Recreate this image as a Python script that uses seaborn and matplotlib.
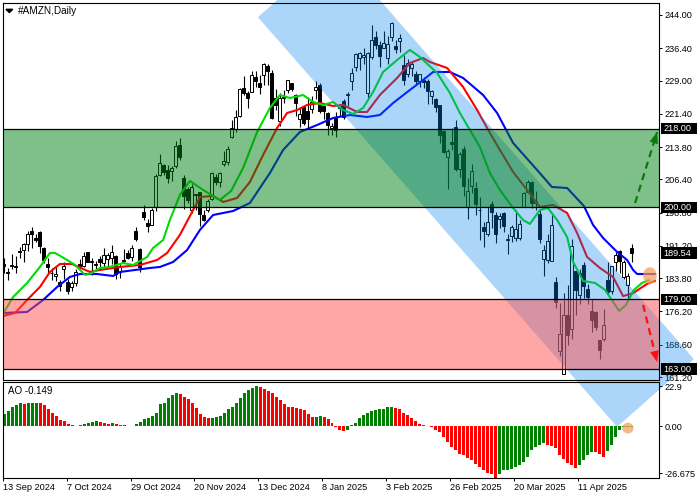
import numpy as np
import pandas as pd
import matplotlib
matplotlib.use("Agg")
import matplotlib.pyplot as plt
import matplotlib.transforms as mtransforms
from matplotlib.patches import Rectangle, Ellipse, Polygon
import seaborn as sns

# ---------------- data ----------------
date_bars = [0, 16, 32, 48, 64, 80, 96, 112, 128, 144]
date_labels = ["13 Sep 2024", "7 Oct 2024", "29 Oct 2024", "20 Nov 2024", "13 Dec 2024",
               "8 Jan 2025", "3 Feb 2025", "26 Feb 2025", "20 Mar 2025", "11 Apr 2025"]

open_ = [187.0, 185.3, 186.6, 186.7, 190.0, 190.2, 191.6, 194.6, 192.9, 194.3,
         190.7, 187.1, 184.9, 184.4, 183.0, 185.8, 183.0, 181.9, 182.8, 187.1,
         186.6, 189.8, 187.6, 187.1, 188.2, 187.2, 188.1, 188.4, 188.9, 185.3,
         187.9, 189.6, 188.6, 194.7, 190.5, 199.0, 196.5, 196.0, 200.0, 207.4,
         209.7, 208.5, 208.4, 209.4, 214.2, 206.8, 204.2, 199.3, 203.0, 203.5,
         198.3, 199.3, 201.9, 207.0, 205.8, 210.0, 210.3, 216.0, 218.0, 220.8,
         227.2, 226.1, 226.4, 229.8, 228.4, 230.2, 232.4, 230.8, 224.9, 219.8,
         225.0, 226.9, 228.5, 225.6, 220.1, 223.0, 222.0, 222.5, 226.8, 227.9,
         223.2, 221.5, 218.1, 220.4, 222.8, 224.4, 225.8, 228.9, 232.0, 234.1,
         234.5, 226.2, 234.3, 239.0, 237.1, 236.5, 234.1, 239.0, 237.0, 238.0,
         232.5, 230.6, 231.9, 230.5, 228.9, 229.2, 228.8, 225.5, 224.8, 223.3,
         217.5, 211.6, 214.9, 218.4, 208.7, 213.4, 200.1, 204.8, 204.4, 199.5,
         195.6, 193.9, 200.7, 198.2, 197.4, 198.8, 192.5, 193.4, 193.1, 192.9,
         200.0, 203.6, 205.8, 200.9, 198.4, 188.2, 187.9, 187.7, 183.0, 167.1,
         162.0, 175.3, 172.1, 185.4, 179.9, 186.8, 181.4, 176.3, 176.0, 169.6,
         169.9, 183.5, 180.9, 187.6, 190.1, 184.0, 182.2, 190.6]
high = [188.5, 186.1, 189.4, 188.8, 191.0, 191.8, 194.5, 195.4, 194.0, 194.5,
        190.9, 188.5, 186.2, 186.6, 183.4, 187.6, 183.6, 183.1, 185.8, 188.1,
        189.9, 189.8, 188.4, 187.8, 188.9, 190.7, 189.5, 191.5, 189.2, 187.1,
        190.5, 190.2, 191.5, 195.6, 190.6, 200.5, 197.3, 199.8, 207.6, 212.3,
        210.0, 209.7, 209.5, 215.1, 215.9, 207.3, 204.7, 205.3, 203.1, 203.5,
        199.3, 202.0, 208.0, 207.6, 208.2, 213.0, 214.0, 220.0, 222.2, 227.2,
        230.1, 226.7, 231.2, 231.1, 230.2, 233.0, 232.7, 231.4, 227.0, 226.2,
        226.9, 229.1, 228.5, 226.0, 223.0, 223.2, 225.2, 225.4, 228.8, 228.4,
        223.5, 221.7, 219.4, 221.8, 223.6, 224.7, 226.5, 231.8, 235.4, 235.5,
        236.4, 235.6, 241.8, 240.4, 238.0, 240.3, 239.3, 242.5, 238.3, 239.7,
        234.8, 233.9, 233.4, 231.2, 230.4, 229.9, 229.3, 226.8, 225.1, 223.3,
        217.7, 213.3, 218.2, 220.0, 212.6, 214.0, 206.8, 210.0, 205.8, 202.3,
        196.7, 200.2, 201.5, 198.9, 198.7, 199.0, 194.0, 196.0, 199.3, 197.0,
        203.6, 206.2, 206.0, 203.8, 199.3, 191.3, 193.9, 198.3, 184.1, 178.1,
        180.5, 182.3, 192.7, 185.4, 185.9, 187.4, 182.4, 179.1, 176.2, 169.6,
        176.8, 187.4, 186.7, 189.9, 190.2, 188.0, 185.1, 191.6]
low = [185.1, 183.4, 186.0, 185.1, 188.4, 187.4, 190.1, 190.8, 192.0, 189.5,
       187.3, 184.7, 183.5, 183.1, 180.9, 183.6, 180.3, 180.9, 182.1, 185.8,
       186.3, 187.4, 184.6, 185.6, 186.0, 186.3, 186.4, 187.0, 183.7, 183.9,
       187.5, 188.2, 187.8, 192.4, 185.2, 197.0, 194.3, 196.0, 199.1, 207.2,
       207.4, 205.6, 206.0, 209.1, 210.9, 199.6, 201.0, 198.8, 199.5, 195.8,
       196.8, 199.0, 201.8, 205.1, 204.6, 209.5, 209.7, 215.8, 217.3, 220.6,
       225.7, 222.8, 226.3, 227.6, 225.9, 228.0, 227.9, 220.1, 222.3, 218.7,
       223.9, 226.1, 226.7, 220.9, 218.4, 218.9, 218.2, 221.6, 224.8, 221.5,
       220.2, 216.5, 216.5, 216.2, 220.8, 220.3, 223.1, 226.9, 231.2, 231.5,
       232.9, 225.0, 234.0, 236.2, 232.2, 236.4, 232.9, 238.0, 235.2, 235.6,
       228.1, 229.8, 230.1, 228.2, 227.5, 227.2, 223.7, 223.7, 221.8, 214.7,
       212.4, 204.2, 213.1, 208.4, 207.0, 202.6, 197.4, 203.3, 198.3, 192.5,
       190.9, 193.4, 195.3, 191.8, 195.3, 194.3, 189.4, 192.0, 192.3, 192.5,
       200.0, 203.2, 199.9, 199.3, 191.9, 184.4, 187.2, 187.7, 176.9, 166.0,
       162.2, 168.6, 169.9, 175.4, 178.0, 179.2, 177.9, 171.4, 172.0, 165.3,
       169.4, 180.2, 180.2, 185.5, 184.9, 183.7, 178.9, 187.4]
close = [186.5, 184.9, 186.9, 186.4, 189.9, 191.6, 193.9, 194.0, 192.5, 191.2,
         188.0, 186.3, 185.1, 184.8, 182.0, 186.5, 180.8, 182.7, 185.2, 186.7,
         188.8, 187.5, 187.7, 186.9, 187.5, 189.0, 189.1, 189.7, 184.7, 186.4,
         187.8, 188.4, 190.8, 192.7, 186.4, 197.9, 195.8, 199.5, 207.1, 210.1,
         208.2, 206.8, 208.9, 214.1, 211.5, 202.6, 201.7, 204.6, 202.9, 198.4,
         197.1, 201.5, 207.9, 205.7, 207.9, 210.7, 213.4, 218.2, 220.6, 227.0,
         226.1, 225.0, 230.3, 229.0, 227.5, 232.9, 231.2, 220.5, 223.3, 224.9,
         225.1, 229.1, 227.1, 223.8, 221.3, 219.4, 220.2, 224.2, 227.6, 222.1,
         222.1, 218.9, 218.5, 217.8, 223.4, 220.7, 225.9, 230.7, 235.0, 235.4,
         234.9, 235.4, 238.2, 237.1, 234.6, 237.7, 237.4, 242.1, 236.2, 238.8,
         229.2, 233.1, 232.8, 228.9, 230.4, 228.7, 226.7, 226.6, 222.9, 216.6,
         212.7, 212.8, 214.4, 208.7, 212.3, 205.0, 203.8, 208.4, 200.7, 199.3,
         194.5, 196.6, 198.9, 193.9, 198.0, 195.7, 192.8, 195.5, 195.0, 196.2,
         203.3, 205.7, 201.1, 201.4, 192.7, 190.3, 192.2, 196.0, 178.4, 171.0,
         175.3, 170.7, 191.1, 181.2, 184.9, 182.1, 179.6, 174.3, 172.6, 167.3,
         173.2, 180.6, 186.5, 189.0, 187.7, 187.4, 184.4, 189.54]

# Alligator lines (bar number, price)
jaw_bar = [0, 5.9, 9.9, 13.4, 16.6, 19.1, 23.4, 27.4, 29.1, 36.6, 39.1, 42.4, 45.9, 49.1,
           52.4, 57.4, 61.6, 66.6, 69.9, 74.1, 78.4, 82.4, 86.6, 90.9, 94.1, 97.4, 101.6,
           104.9, 107.4, 111.6, 114.9, 119.9, 123.4, 127.4, 133.4, 137.1, 140.9, 145.1,
           147.4, 149.9, 153.4, 155.9, 157.4, 158.4, 162.9]
jaw_val = [175.85, 176.08, 178.82, 181.79, 184.08, 184.76, 184.76, 184.31, 185.22, 186.14,
           186.37, 187.51, 190.25, 194.83, 198.26, 199.17, 201.0, 207.86, 213.13, 217.24,
           218.84, 220.44, 221.13, 220.67, 221.13, 223.87, 226.85, 229.13, 230.96, 230.96,
           229.59, 225.70, 221.59, 214.73, 208.55, 204.66, 204.43, 200.32, 195.97, 193.0,
           189.8, 187.97, 185.68, 184.76, 184.76]
teeth_bar = [0, 2.9, 5.9, 9.1, 11.6, 14.1, 17.1, 21.6, 24.1, 29.1, 34.1, 38.4, 40.9, 44.1,
             47.4, 49.1, 52.4, 54.9, 58.4, 61.6, 64.9, 68.4, 70.9, 73.4, 75.9, 79.1, 82.4,
             84.9, 88.4, 90.9, 94.1, 98.4, 101.6, 104.9, 106.6, 110.9, 114.9, 118.4, 121.6,
             124.1, 127.4, 130.9, 134.1, 137.4, 140.9, 143.4, 145.9, 149.1, 152.4, 154.9,
             157.4, 160.9, 162.9]
teeth_val = [175.16, 175.85, 178.82, 181.79, 185.22, 187.05, 187.05, 185.22, 185.68, 186.37,
             186.82, 187.97, 189.57, 193.69, 199.40, 202.38, 202.60, 201.23, 202.15, 205.81,
             211.98, 218.16, 221.59, 222.27, 223.42, 223.87, 223.19, 223.42, 221.82, 221.82,
             225.70, 229.59, 233.02, 234.17, 233.25, 231.88, 227.53, 222.27, 217.01, 213.13,
             208.09, 203.98, 200.09, 200.55, 198.72, 194.14, 188.65, 186.14, 184.08, 179.7,
             180.4, 182.5, 183.2]
lips_bar = [0, 2.4, 5.9, 9.1, 11.6, 12.9, 15.9, 17.9, 20.4, 22.1, 24.1, 26.6, 29.9, 32.4,
            35.9, 37.4, 39.9, 41.6, 44.1, 46.6, 49.9, 54.1, 56.9, 59.9, 63.4, 66.6, 69.1,
            71.6, 74.9, 77.4, 79.9, 82.4, 84.9, 87.4, 89.9, 92.4, 94.9, 98.4, 101.6, 104.1,
            108.4, 111.6, 114.1, 116.6, 119.1, 121.6, 124.1, 127.4, 129.9, 131.6, 134.1,
            136.1, 138.4, 140.9, 142.4, 144.9, 147.9, 150.4, 153.9, 155.6, 157.6, 159.6, 161.4]
lips_val = [175.85, 179.51, 182.71, 186.37, 189.57, 189.57, 187.97, 186.82, 184.54, 185.0,
            186.14, 186.37, 187.28, 186.82, 188.65, 190.71, 192.54, 197.12, 202.83, 206.04,
            203.98, 201.69, 203.75, 209.01, 217.24, 222.73, 225.70, 225.02, 225.70, 224.10,
            223.42, 224.10, 222.27, 221.36, 222.73, 226.39, 230.96, 233.71, 236.0, 234.39,
            230.74, 226.16, 221.59, 217.70, 213.81, 207.86, 203.98, 199.86, 197.12, 196.20,
            199.40, 199.86, 197.12, 193.23, 187.51, 183.17, 182.71, 181.11, 176.31, 177.68,
            181.11, 182.71, 183.39]

ao = [6.2, 7.9, 10.0, 10.9, 11.9, 11.7, 11.8, 11.9, 12.3, 11.8,
      10.9, 9.1, 7.0, 5.3, 3.5, 2.6, 1.4, 0.9, 0.35, 0.9,
      1.4, 1.8, 2.3, 3.0, 2.3, 1.8, 1.4, 1.8, 1.2, 0.9,
      0.5, 0.35, 0.3, 1.4, 2.1, 3.9, 4.4, 5.3, 7.0, 11.4,
      12.3, 14.6, 16.2, 17.0, 16.9, 15.3, 14.1, 12.3, 9.7, 6.5,
      4.7, 4.4, 4.5, 4.7, 5.3, 7.0, 8.8, 10.0, 12.3, 14.6,
      17.0, 18.8, 19.9, 20.6, 20.2, 19.3, 18.4, 17.0, 15.3, 13.5,
      11.4, 10.0, 9.9, 9.7, 8.8, 8.3, 6.5, 4.7, 4.8, 5.1,
      4.7, 3.9, 1.8, -0.35, -1.8, -2.3, -1.8, 0.9, 1.8, 4.4,
      5.8, 7.0, 7.9, 8.3, 8.8, 9.1, 10.0, 10.1, 9.7, 9.1,
      7.0, 5.8, 4.4, 3.0, 1.4, 0.9, 0.1, -0.5, -1.8, -3.0,
      -5.3, -7.9, -10.5, -12.3, -14.1, -14.9, -16.3, -17.6, -19.3, -21.1,
      -22.8, -24.1, -24.6, -26.6, -24.6, -22.8, -22.5, -22.0, -21.1, -20.2,
      -18.4, -15.8, -12.3, -10.5, -9.7, -8.8, -9.7, -10.2, -11.1, -14.6,
      -17.0, -18.8, -20.2, -21.3, -19.9, -17.6, -14.9, -13.2, -13.5, -14.1,
      -15.8, -12.8, -9.7, -5.3, -1.8, -0.5, -0.3, -0.149]

price_ticks = [244.00, 236.40, 229.00, 221.40, 213.80, 206.40, 198.80, 191.20,
               183.80, 176.20, 168.60, 161.20]
level_labels = [218.00, 200.00, 189.54, 179.00, 163.00]
buy_zone = [200.0, 218.0]
sell_zone = [163.0, 179.0]
ao_tick_labels = ["22.9", "0.00", "-26.675"]
ao_range = [-26.675, 22.9]

# trend channel and target arrows (bar, price)
channel_bar = [63.6, 153.4, 172.6, 82.9]
channel_price = [243.5, 149.8, 165.3, 259.1]
up_arrow_bar = [157.9, 163.4]
up_arrow_price = [201.0, 217.2]
down_arrow_bar = [159.9, 163.4]
down_arrow_price = [177.7, 164.6]

# ---------------- style ----------------
sns.set_theme(style="white")
plt.rcParams["font.family"] = ["Liberation Sans", "DejaVu Sans"]
plt.rcParams["axes.linewidth"] = 0.8
FS = 6.6

W, H = 700, 500
fig = plt.figure(figsize=(7, 5), dpi=100)
fig.patch.set_facecolor("white")
L_PX, R_PX = 2.7, 659.0
ax = fig.add_axes([L_PX / W, 1 - 380 / H, (R_PX - L_PX) / W, 377 / H])
ax2 = fig.add_axes([L_PX / W, 1 - 478 / H, (R_PX - L_PX) / W, 96 / H])
ax2.set_facecolor("none")

n = len(close)
idx = np.arange(n)
o = np.array(open_); c = np.array(close); h = np.array(high); l = np.array(low)

# candles
ax.vlines(idx, l, h, color="black", lw=0.8, zorder=2.0)
bull = c >= o
ax.bar(idx, np.maximum(np.abs(c - o), 0.15), bottom=np.minimum(o, c), width=0.72,
       color=np.where(bull, "white", "black"), edgecolor="black", linewidth=0.7, zorder=2.05)

# alligator lines
for xb, yv, col in [(jaw_bar, jaw_val, "#0000ff"), (teeth_bar, teeth_val, "#ff0000"),
                    (lips_bar, lips_val, "#00dd00")]:
    sns.lineplot(x=xb, y=yv, ax=ax, color=col, linewidth=1.5, estimator=None,
                 errorbar=None, zorder=2.1)

# channel band (drawn across panels)
ax.fill(channel_bar, channel_price, color=(0, 133 / 255, 239 / 255), alpha=0.33, lw=0,
        zorder=2.2, clip_on=False)

# zones
ax.axhspan(buy_zone[0], buy_zone[1], color=(0, 128 / 255, 20 / 255), alpha=0.5, lw=0, zorder=2.3)
ax.axhspan(sell_zone[0], sell_zone[1], color=(1, 81 / 255, 81 / 255), alpha=0.5, lw=0, zorder=2.3)
for lvl in buy_zone + sell_zone:
    ax.axhline(lvl, color="black", lw=0.9, zorder=2.35)

# arrows
def dashed_arrow(xs, ys, col):
    ax.plot(xs, ys, color=col, lw=1.6, ls=(0, (3.2, 2.2)), zorder=2.4, clip_on=False)
    x0, y0 = xs[0] + 0.85 * (xs[1] - xs[0]), ys[0] + 0.85 * (ys[1] - ys[0])
    ax.annotate("", xy=(xs[1], ys[1]), xytext=(x0, y0), zorder=2.45,
                arrowprops=dict(arrowstyle="-|>,head_length=0.9,head_width=0.35", color=col,
                                lw=0, shrinkA=0, shrinkB=0, mutation_scale=9),
                annotation_clip=False)

dashed_arrow(up_arrow_bar, up_arrow_price, "#0a7a0a")
dashed_arrow(down_arrow_bar, down_arrow_price, "#ff1010")

# highlight circles
ax.add_patch(Ellipse((161.6, 184.4), 3.4, 3.8, fc="#f59a55", alpha=0.7, lw=0, zorder=2.5,
                     clip_on=False))

ax.set_xlim(-0.2, 163.875)
ax.set_ylim(160.52, 246.74)
ax.set_xticks([])
ax.yaxis.tick_right()
ax.set_yticks(price_ticks)
ax.set_yticklabels([f"{v:.2f}" for v in price_ticks])
ax.tick_params(axis="y", which="major", direction="out", length=2.3, width=0.7, pad=1.6,
               labelsize=FS, colors="black", right=True, left=False)
ax.set_xlabel(""); ax.set_ylabel("")
for s in ax.spines.values():
    s.set_color("black"); s.set_linewidth(0.8); s.set_zorder(3)

# price boxes
trans = mtransforms.blended_transform_factory(ax.transAxes, ax.transData)
px = 1.0 / (R_PX - L_PX)
for v in level_labels:
    ax.add_patch(Rectangle((1 + 1.8 * px, v - 1.3), 36.5 * px, 2.6, transform=trans,
                           fc="black", ec="black", lw=0, clip_on=False, zorder=4))
    ax.text(1 + 4.2 * px, v, f"{v:.2f}", transform=trans, color="white", fontsize=FS,
            va="center", ha="left", zorder=5, clip_on=False)

# ---------------- AO panel ----------------
ao_arr = np.array(ao)
direction = np.where(np.diff(ao_arr, prepend=ao_arr[0] - 1) > 0, "up", "down")
df_ao = pd.DataFrame({"bar": idx, "ao": ao_arr, "dir": direction})
sns.barplot(data=df_ao, x="bar", y="ao", hue="dir", palette={"up": "#008000", "down": "#ff0000"},
            native_scale=True, width=0.75, saturation=1, dodge=False, errorbar=None,
            legend=False, linewidth=0, ax=ax2)
ax2.add_patch(Ellipse((156.1, -0.9), 2.8, 5.6, fc="#f59a55", alpha=0.7, lw=0, zorder=3,
                      clip_on=False))
ax2.set_xlim(-0.2, 163.875)
ax2.set_ylim(ao_range[0], ao_range[1])
ax2.set_xlabel(""); ax2.set_ylabel("")
ax2.yaxis.tick_right()
ax2.set_yticks([20.83, 0.0, -24.1])
ax2.set_yticklabels(ao_tick_labels)
ax2.tick_params(axis="y", direction="out", length=2.3, width=0.7, pad=1.6, labelsize=FS,
                colors="black", right=True, left=False)
ax2.set_xticks([b - 0.45 for b in date_bars])
ax2.set_xticklabels(date_labels)
for t in ax2.get_xticklabels():
    t.set_ha("left")
ax2.tick_params(axis="x", direction="out", length=2.3, width=0.7, pad=1.2, labelsize=FS,
                colors="black", bottom=True)
for s in ax2.spines.values():
    s.set_color("black"); s.set_linewidth(0.8)
ax2.text(5.3 / (R_PX - L_PX), 1 - 9.5 / 96, "AO -0.149", transform=ax2.transAxes,
         fontsize=7, va="center", ha="left", color="black")

# title
fig.add_artist(Polygon([[6 / W, 1 - 9.3 / H], [12.7 / W, 1 - 9.3 / H], [9.35 / W, 1 - 12.6 / H]],
                       closed=True, transform=fig.transFigure, color="black"))
fig.text(18.3 / W, 1 - 11 / H, "#AMZN,Daily", fontsize=7.2, va="center", ha="left", color="black")

fig.savefig("out.png", dpi=100, facecolor="white")
